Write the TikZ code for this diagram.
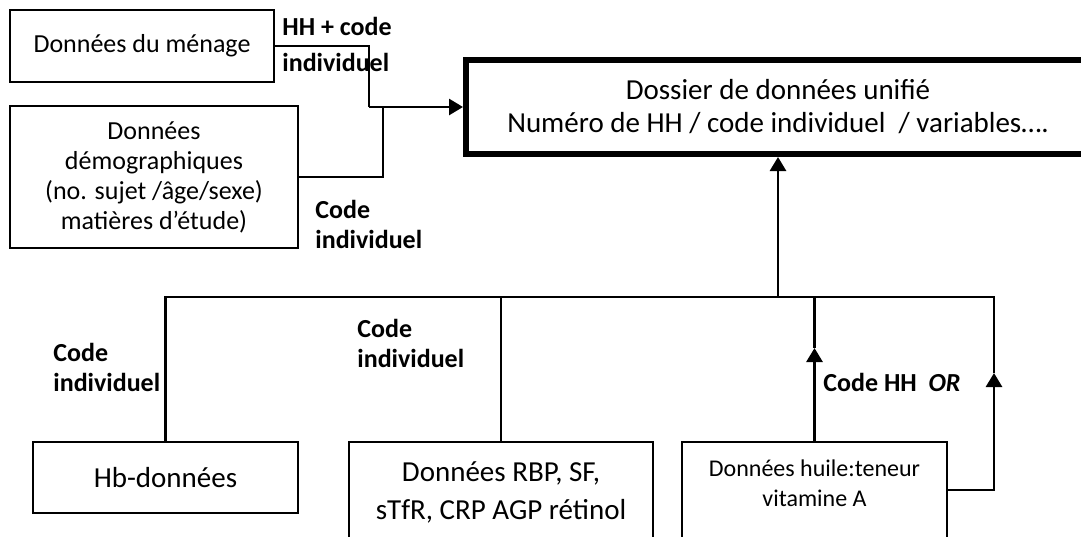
\documentclass[tikz,border=0pt]{standalone}
\usepackage{fontspec}
\setmainfont{Carlito}
\usetikzlibrary{positioning, arrows.meta}

\tikzset{
  box/.style={draw, line width=1pt, inner sep=0pt, align=center},
  lbl/.style={inner sep=0pt, align=left, font=\fontsize{13}{15}\selectfont\bfseries},
  link/.style={line width=1.4pt},
  arr/.style={line width=1.4pt, -{Triangle[length=7pt,width=8pt]}},
}

\begin{document}
\begin{tikzpicture}[x=0.5pt, y=-0.5pt]
    \useasboundingbox (0,0) rectangle (1081,536);

    % sources at the top left
    \node[box, minimum width=132pt, minimum height=36pt, font=\fontsize{13}{15}\selectfont] (menage) at (142,46) {Données du ménage};
    \node[box, minimum width=144pt, minimum height=71pt, font=\fontsize{13}{15}\selectfont] (demo) at (154,177)
        {Données\\démographiques\\(no. sujet /âge/sexe)\\matières d’étude)};

    % unified file
    \node[box, line width=3pt, minimum width=312pt, minimum height=47pt, font=\fontsize{14.5}{16.5}\selectfont] (dossier) at (778,107)
        {Dossier de données unifié\\Numéro de HH / code individuel~~/ variables….};

    % lab data at the bottom
    \node[box, minimum width=132.5pt, minimum height=35.5pt, font=\fontsize{14.5}{17}\selectfont] (hb) at (165.5,477.5) {Hb-données};
    \node[box, minimum width=152pt, minimum height=50pt, font=\fontsize{14.5}{19}\selectfont] (rbp) at (501,492)
        {Données RBP, SF,\\sTfR, CRP AGP rétinol};
    \node[box, minimum width=132.5pt, minimum height=59pt] (oil) at (814.5,501) {};
    \node[align=center, inner sep=0pt, font=\fontsize{12}{15}\selectfont] (oiltext) at (814.5,483) {Données huile:teneur\\vitamine A};

    % link labels
    \node[lbl, anchor=west, font=\fontsize{13}{18}\selectfont\bfseries] (hhlbl) at (282,44) {HH + code\\individuel};
    \node[lbl, anchor=west] (demolbl) at (315,224) {Code\\individuel};
    \node[lbl, anchor=west] (hblbl) at (53,367) {Code\\individuel};
    \node[lbl, anchor=west] (rbplbl) at (357,343) {Code\\individuel};
    \node[lbl, anchor=west] (oillbl) at (823,382) {Code HH~~\textit{OR}};

    \coordinate (jA) at (369,107);
    \coordinate (jB) at (383,107);
    \coordinate (bus) at (778,297);
    \coordinate (tipE) at (814.5,348);
    \coordinate (tipR) at (994,373);

    \draw[link] (menage.east) -| (jA);
    \draw[link] (demo.east) -| (jB);
    \draw[arr] (jA) -- (dossier.west);

    \draw[arr] (bus) -- (dossier.south);
    \draw[link] (hb.north) |- (bus);
    \draw[link] (rbp.north) -- (rbp.north |- bus);

    \draw[arr] (oil.north) -- (tipE);
    \draw[link] (tipE) -- (oil.north |- bus);
    \draw[arr] ([yshift=5.5pt]oil.east) -| (tipR);
    \draw[link] (tipR) |- (bus);
\end{tikzpicture}
\end{document}
